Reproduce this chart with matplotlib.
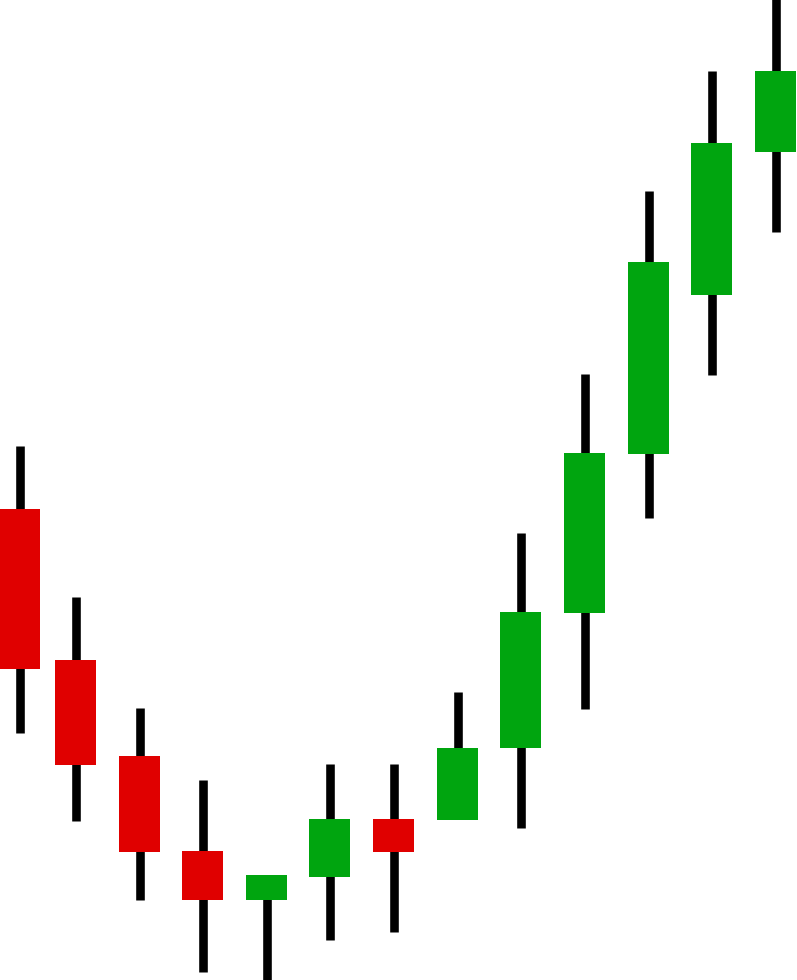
import matplotlib
matplotlib.use("Agg")
import matplotlib.pyplot as plt
import numpy as np

# candle positions and OHLC (arbitrary price units)
pos = [20, 76, 140, 203, 267, 330, 394, 458, 521, 585, 649, 712, 776]
opens = [471, 320, 224, 129, 80, 103, 161, 160, 232, 367, 526, 685, 828]
highs = [534, 383, 272, 200, 105, 216, 216, 288, 447, 606, 789, 909, 985]
lows = [247, 159, 80, 8, -5, 40, 48, 163, 152, 271, 462, 605, 748]
closes = [311, 215, 128, 80, 105, 161, 128, 232, 368, 527, 718, 837, 909]

UP = '#00A50F'
DOWN = '#E00000'

fig = plt.figure(figsize=(7.97, 9.8), dpi=100)
ax = fig.add_axes([0, 0, 1, 1])
ax.set_xlim(0, 797)
ax.set_ylim(0, 980)
ax.axis('off')

o = np.array(opens)
c = np.array(closes)
colors = [UP if cc >= oo else DOWN for oo, cc in zip(o, c)]

# wicks
ax.vlines(pos, lows, highs, color='black', linewidth=6.2, capstyle='butt', zorder=1)
# bodies
ax.bar(pos, np.abs(c - o), bottom=np.minimum(o, c), width=41,
       color=colors, edgecolor='none', zorder=2)

plt.savefig('out.png', dpi=100, facecolor='white')
plt.close()
